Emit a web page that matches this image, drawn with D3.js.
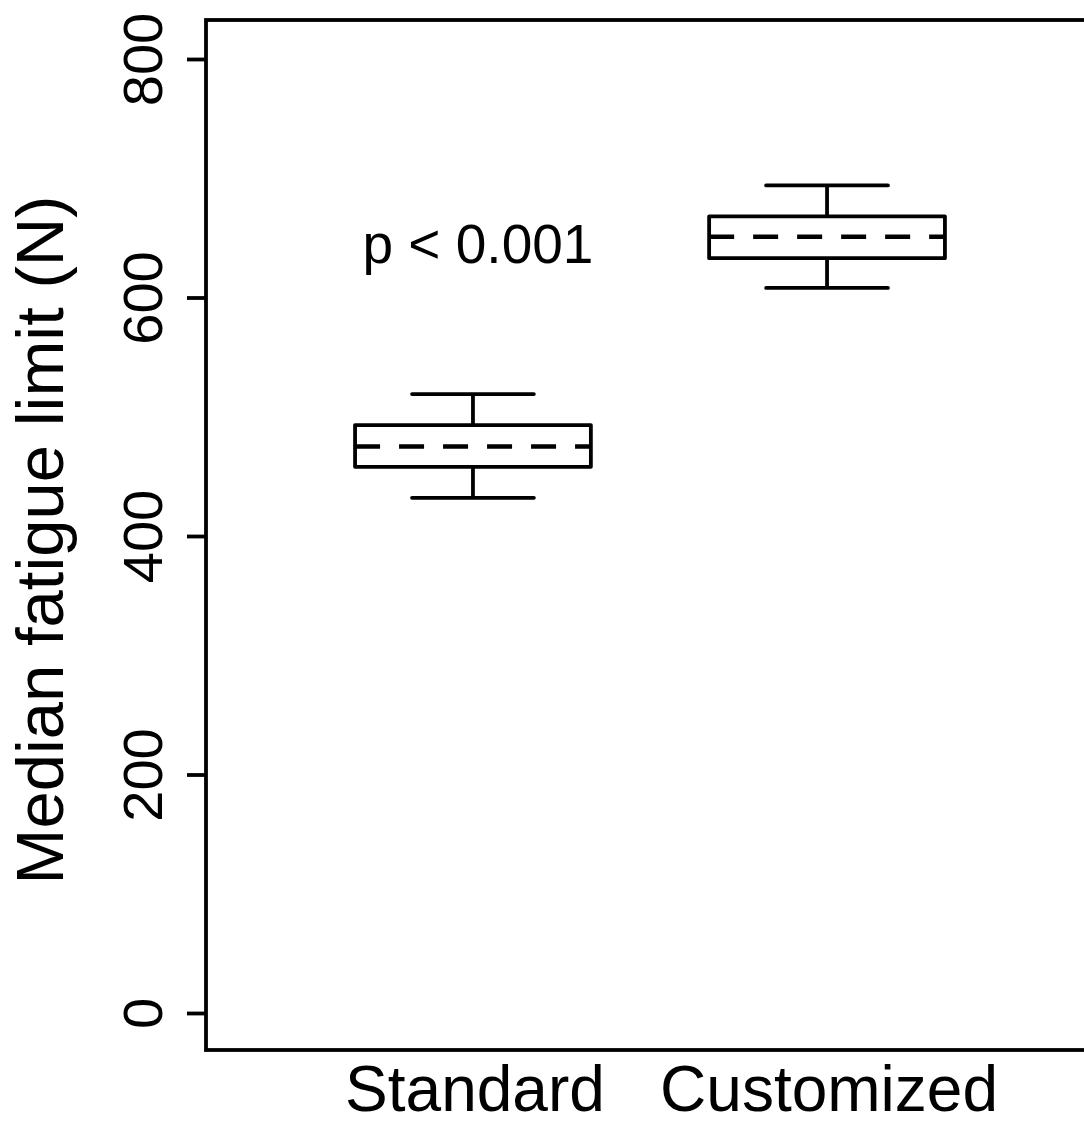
<!DOCTYPE html>
<html>
<head>
<meta charset="utf-8">
<script src="https://cdn.jsdelivr.net/npm/d3@7"></script>
<style>
  body { margin: 0; background: #fff; }
  text { font-family: "Liberation Sans", Arial, sans-serif; fill: #000; }
</style>
</head>
<body>
<div id="chart"></div>
<script>
// --- data ---
const categories = ["Standard", "Customized"];
const whiskerLow  = [432, 608];
const q1          = [458, 633];
const medians     = [475, 651];
const q3          = [493, 668];
const whiskerHigh = [519, 694];
const yTicks = [0, 200, 400, 600, 800];
const pLabel = "p < 0.001";

const W = 1084, H = 1126;
const frame = { left: 206, right: 1094, top: 20, bottom: 1050 };
const lw = 3.8;

const svg = d3.select("#chart").append("svg")
    .attr("width", W)
    .attr("height", H);

// --- scales ---
const y = d3.scaleLinear().domain([0, 800]).range([1013, 59]);
const x = d3.scalePoint()
    .domain(categories)
    .range([frame.left, frame.right])
    .padding(0.754);
const step = x.step();
const boxHalf = step * 0.333;
const capHalf = step * 0.172;

const rows = categories.map((c, i) => ({
    cat: c, lo: whiskerLow[i], q1: q1[i], med: medians[i], q3: q3[i], hi: whiskerHigh[i]
}));

// --- frame ---
svg.append("rect")
    .attr("x", frame.left).attr("y", frame.top)
    .attr("width", frame.right - frame.left)
    .attr("height", frame.bottom - frame.top)
    .attr("fill", "none").attr("stroke", "#000").attr("stroke-width", lw);

// --- y axis ---
const yAxis = svg.append("g")
    .attr("transform", `translate(${frame.left},0)`)
    .call(d3.axisLeft(y).tickValues(yTicks).tickSize(19).tickFormat(d3.format("d")));
yAxis.select(".domain").remove();
yAxis.selectAll(".tick line").attr("stroke", "#000").attr("stroke-width", lw);
yAxis.selectAll(".tick text")
    .attr("transform", "rotate(-90)")
    .attr("x", 0).attr("y", -44).attr("dy", null)
    .attr("text-anchor", "middle")
    .style("font-size", "56px")
    .style("font-family", "'Liberation Sans', Arial, sans-serif")
    .attr("fill", "#000");

svg.append("text")
    .attr("transform", `translate(63, ${(frame.top + frame.bottom) / 2 + 5}) rotate(-90)`)
    .attr("text-anchor", "middle")
    .style("font-size", "67px")
    .text("Median fatigue limit (N)");

// --- category labels ---
svg.selectAll(".cat")
    .data(categories)
    .join("text")
    .attr("class", "cat")
    .attr("x", d => x(d) + 2)
    .attr("y", 1111)
    .attr("text-anchor", "middle")
    .style("font-size", "64px")
    .text(d => d);

// --- boxes ---
const g = svg.selectAll(".box")
    .data(rows)
    .join("g")
    .attr("class", "box")
    .attr("stroke", "#000")
    .attr("stroke-width", lw)
    .attr("fill", "none");

// whiskers
g.append("line")
    .attr("x1", d => x(d.cat)).attr("x2", d => x(d.cat))
    .attr("y1", d => y(d.hi)).attr("y2", d => y(d.q3));
g.append("line")
    .attr("x1", d => x(d.cat)).attr("x2", d => x(d.cat))
    .attr("y1", d => y(d.q1)).attr("y2", d => y(d.lo));
// caps
g.append("line")
    .attr("x1", d => x(d.cat) - capHalf).attr("x2", d => x(d.cat) + capHalf)
    .attr("y1", d => y(d.hi)).attr("y2", d => y(d.hi))
    .attr("stroke-linecap", "round");
g.append("line")
    .attr("x1", d => x(d.cat) - capHalf).attr("x2", d => x(d.cat) + capHalf)
    .attr("y1", d => y(d.lo)).attr("y2", d => y(d.lo))
    .attr("stroke-linecap", "round");
// box
g.append("rect")
    .attr("x", d => x(d.cat) - boxHalf)
    .attr("y", d => y(d.q3))
    .attr("width", boxHalf * 2)
    .attr("height", d => y(d.q1) - y(d.q3))
    .attr("stroke-linejoin", "round");
// dashed median
g.append("line")
    .attr("x1", d => x(d.cat) - boxHalf).attr("x2", d => x(d.cat) + boxHalf)
    .attr("y1", d => y(d.med)).attr("y2", d => y(d.med))
    .attr("stroke-width", 4.5)
    .attr("stroke-dasharray", "25,19");

// --- p-value annotation ---
svg.append("text")
    .attr("x", x(categories[0]) + 5)
    .attr("y", y(629))
    .attr("text-anchor", "middle")
    .style("font-size", "55px")
    .text(pLabel);
</script>
</body>
</html>
